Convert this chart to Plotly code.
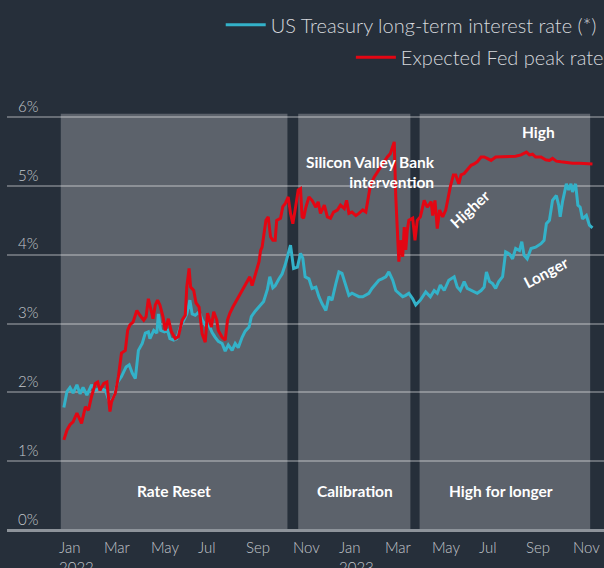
import plotly.graph_objects as go

# US Treasury long-term interest rate (%)
ust_dates = [
    "2022-01-06", "2022-01-10", "2022-01-14", "2022-01-18", "2022-01-23", "2022-01-27", "2022-01-31",
    "2022-02-05", "2022-02-11", "2022-02-16", "2022-02-22", "2022-03-01", "2022-03-07", "2022-03-12",
    "2022-03-17", "2022-03-22", "2022-03-28", "2022-04-01", "2022-04-05", "2022-04-09", "2022-04-13",
    "2022-04-18", "2022-04-22", "2022-04-26", "2022-04-28", "2022-05-03", "2022-05-07", "2022-05-09",
    "2022-05-12", "2022-05-17", "2022-05-21", "2022-05-24", "2022-05-29", "2022-06-02", "2022-06-06",
    "2022-06-11", "2022-06-15", "2022-06-19", "2022-06-22", "2022-06-26", "2022-07-01", "2022-07-05",
    "2022-07-09", "2022-07-13", "2022-07-18", "2022-07-22", "2022-07-26", "2022-07-31", "2022-08-04",
    "2022-08-08", "2022-08-13", "2022-08-17", "2022-08-21", "2022-08-26", "2022-08-30", "2022-09-04",
    "2022-09-07", "2022-09-12", "2022-09-17", "2022-09-23", "2022-09-28", "2022-10-01", "2022-10-05",
    "2022-10-08", "2022-10-13", "2022-10-17", "2022-10-21", "2022-10-25", "2022-10-28", "2022-10-30",
    "2022-11-01", "2022-11-06", "2022-11-10", "2022-11-13", "2022-11-16", "2022-11-21", "2022-11-25",
    "2022-11-30", "2022-12-04", "2022-12-08", "2022-12-13", "2022-12-17", "2022-12-21", "2022-12-26",
    "2022-12-30", "2023-01-03", "2023-01-08", "2023-01-12", "2023-01-16", "2023-01-21", "2023-01-25",
    "2023-01-30", "2023-02-03", "2023-02-07", "2023-02-11", "2023-02-16", "2023-02-20", "2023-02-24",
    "2023-03-01", "2023-03-05", "2023-03-10", "2023-03-14", "2023-03-18", "2023-03-23", "2023-03-27",
    "2023-03-31", "2023-04-05", "2023-04-09", "2023-04-15", "2023-04-22", "2023-04-28", "2023-05-03",
    "2023-05-07", "2023-05-11", "2023-05-16", "2023-05-22", "2023-05-29", "2023-06-02", "2023-06-06",
    "2023-06-11", "2023-06-15", "2023-06-20", "2023-06-24", "2023-06-28", "2023-07-03", "2023-07-07",
    "2023-07-10", "2023-07-14", "2023-07-18", "2023-07-22", "2023-07-26", "2023-07-31", "2023-08-04",
    "2023-08-09", "2023-08-13", "2023-08-17", "2023-08-22", "2023-08-25", "2023-08-28", "2023-09-01",
    "2023-09-06", "2023-09-12", "2023-09-19", "2023-09-23", "2023-09-26", "2023-09-30", "2023-10-04",
    "2023-10-09", "2023-10-12", "2023-10-14", "2023-10-17", "2023-10-22", "2023-10-25", "2023-10-28",
    "2023-10-30", "2023-11-03", "2023-11-06", "2023-11-09", "2023-11-12", "2023-11-17", "2023-11-21",
    "2023-11-25",
]
ust_rate = [
    1.78, 2.01, 2.07, 1.99, 2.11, 1.98, 2.07,
    1.96, 2.11, 2.03, 2.06, 2.03, 1.84, 1.94,
    2.15, 2.23, 2.37, 2.40, 2.28, 2.20, 2.61,
    2.71, 2.86, 2.88, 2.78, 2.90, 2.86, 3.14,
    2.90, 2.88, 2.90, 2.78, 2.76, 2.78, 2.93,
    3.05, 3.14, 3.34, 3.14, 3.12, 3.17, 3.05,
    2.98, 3.00, 2.87, 2.80, 2.74, 2.71, 2.60,
    2.69, 2.61, 2.71, 2.65, 2.80, 2.89, 2.95,
    3.10, 3.18, 3.24, 3.32, 3.50, 3.68, 3.52,
    3.55, 3.65, 3.72, 3.85, 4.02, 4.14, 3.97,
    3.80, 3.82, 4.02, 3.95, 3.68, 3.65, 3.51,
    3.53, 3.39, 3.29, 3.19, 3.39, 3.34, 3.58,
    3.75, 3.73, 3.53, 3.41, 3.44, 3.41, 3.39,
    3.39, 3.41, 3.44, 3.51, 3.58, 3.63, 3.65,
    3.68, 3.75, 3.63, 3.48, 3.44, 3.39, 3.41,
    3.44, 3.36, 3.27, 3.34, 3.46, 3.39, 3.48,
    3.44, 3.56, 3.48, 3.63, 3.68, 3.53, 3.48,
    3.61, 3.51, 3.48, 3.46, 3.44, 3.48, 3.53,
    3.75, 3.61, 3.58, 3.51, 3.61, 3.68, 4.04,
    4.01, 3.94, 4.09, 4.06, 4.19, 3.99, 3.94,
    4.09, 4.11, 4.16, 4.21, 4.45, 4.50, 4.79,
    4.86, 4.72, 4.55, 4.77, 5.03, 4.94, 5.03,
    4.91, 5.03, 4.72, 4.69, 4.52, 4.57, 4.43,
    4.39,
]

# Expected Fed peak rate (%)
fed_dates = [
    "2022-01-06", "2022-01-10", "2022-01-14", "2022-01-18", "2022-01-23", "2022-01-26", "2022-01-29",
    "2022-02-03", "2022-02-07", "2022-02-11", "2022-02-16", "2022-02-19", "2022-02-22", "2022-02-27",
    "2022-03-03", "2022-03-07", "2022-03-09", "2022-03-14", "2022-03-18", "2022-03-22", "2022-03-27",
    "2022-03-30", "2022-04-02", "2022-04-06", "2022-04-11", "2022-04-15", "2022-04-20", "2022-04-23",
    "2022-04-26", "2022-04-29", "2022-05-02", "2022-05-05", "2022-05-08", "2022-05-11", "2022-05-15",
    "2022-05-18", "2022-05-22", "2022-05-26", "2022-05-31", "2022-06-04", "2022-06-09", "2022-06-13",
    "2022-06-15", "2022-06-18", "2022-06-20", "2022-06-24", "2022-06-27", "2022-07-01", "2022-07-05",
    "2022-07-09", "2022-07-12", "2022-07-17", "2022-07-20", "2022-07-24", "2022-07-26", "2022-07-31",
    "2022-08-04", "2022-08-07", "2022-08-10", "2022-08-14", "2022-08-19", "2022-08-24", "2022-08-28",
    "2022-09-02", "2022-09-05", "2022-09-08", "2022-09-12", "2022-09-17", "2022-09-19", "2022-09-21",
    "2022-09-26", "2022-09-29", "2022-10-02", "2022-10-05", "2022-10-08", "2022-10-10", "2022-10-15",
    "2022-10-18", "2022-10-21", "2022-10-25", "2022-10-28", "2022-10-31", "2022-11-03", "2022-11-07",
    "2022-11-10", "2022-11-12", "2022-11-14", "2022-11-17", "2022-11-21", "2022-11-25", "2022-11-30",
    "2022-12-03", "2022-12-06", "2022-12-11", "2022-12-15", "2022-12-19", "2022-12-23", "2022-12-28",
    "2023-01-01", "2023-01-06", "2023-01-09", "2023-01-12", "2023-01-16", "2023-01-21", "2023-01-25",
    "2023-01-30", "2023-02-03", "2023-02-06", "2023-02-09", "2023-02-14", "2023-02-18", "2023-02-22",
    "2023-02-27", "2023-03-03", "2023-03-07", "2023-03-10", "2023-03-12", "2023-03-14", "2023-03-16",
    "2023-03-18", "2023-03-20", "2023-03-23", "2023-03-25", "2023-03-27", "2023-03-29", "2023-03-31",
    "2023-04-05", "2023-04-08", "2023-04-11", "2023-04-15", "2023-04-20", "2023-04-24", "2023-04-29",
    "2023-05-01", "2023-05-04", "2023-05-07", "2023-05-10", "2023-05-14", "2023-05-18", "2023-05-21",
    "2023-05-24", "2023-05-28", "2023-05-31", "2023-06-04", "2023-06-07", "2023-06-11", "2023-06-15",
    "2023-06-20", "2023-06-24", "2023-06-28", "2023-07-03", "2023-07-07", "2023-07-11", "2023-07-16",
    "2023-07-22", "2023-07-29", "2023-08-04", "2023-08-11", "2023-08-17", "2023-08-24", "2023-08-28",
    "2023-08-31", "2023-09-04", "2023-09-08", "2023-09-12", "2023-09-19", "2023-09-25", "2023-09-30",
    "2023-10-04", "2023-10-09", "2023-10-15", "2023-10-22", "2023-10-30", "2023-11-08", "2023-11-17",
    "2023-11-25",
]
fed_peak = [
    1.31, 1.45, 1.53, 1.57, 1.70, 1.62, 1.55,
    1.79, 1.74, 1.94, 2.13, 2.15, 2.03, 2.13,
    2.15, 1.72, 1.86, 1.99, 2.23, 2.57, 2.61,
    2.90, 2.98, 3.02, 3.19, 3.12, 3.05, 3.10,
    3.36, 3.22, 3.07, 3.27, 3.34, 3.27, 3.10,
    2.90, 3.07, 2.88, 2.78, 2.81, 3.05, 3.12,
    3.53, 3.80, 3.53, 3.48, 3.30, 3.24, 2.85,
    2.73, 3.15, 2.95, 3.17, 3.05, 2.90, 2.80,
    2.76, 3.05, 3.15, 3.24, 3.34, 3.45, 3.51,
    3.62, 3.68, 3.55, 3.70, 3.90, 4.06, 4.11,
    4.50, 4.55, 4.26, 4.21, 4.21, 4.50, 4.53,
    4.70, 4.74, 4.84, 4.60, 4.45, 4.65, 4.94,
    4.96, 4.55, 4.53, 4.69, 4.84, 4.79, 4.69,
    4.77, 4.60, 4.72, 4.55, 4.53, 4.62, 4.65,
    4.72, 4.67, 4.79, 4.60, 4.62, 4.57, 4.60,
    4.65, 4.62, 4.82, 5.01, 5.13, 5.20, 5.28,
    5.35, 5.42, 5.47, 5.57, 5.64, 4.84, 4.26,
    3.90, 4.21, 3.97, 4.40, 4.07, 4.36, 4.50,
    4.53, 4.21, 4.50, 4.55, 4.79, 4.69, 4.77,
    4.57, 4.79, 4.38, 4.65, 4.55, 4.65, 4.84,
    4.99, 5.16, 5.16, 5.03, 5.16, 5.18, 5.23,
    5.30, 5.32, 5.35, 5.42, 5.42, 5.40, 5.37,
    5.42, 5.42, 5.43, 5.43, 5.43, 5.45, 5.48,
    5.49, 5.45, 5.46, 5.42, 5.42, 5.38, 5.37,
    5.40, 5.36, 5.35, 5.34, 5.33, 5.33, 5.33,
    5.32,
]

# Policy phases (shaded)
phase_names = ["Rate Reset", "Calibration", "High for longer"]
phase_start = ["2022-01-02", "2022-11-07", "2023-04-14"]
phase_end = ["2022-10-24", "2023-04-02", "2023-11-22"]
phase_label_at = ["2022-05-29", "2023-01-20", "2023-07-29"]

pct_ticks = [0, 1, 2, 3, 4, 5, 6]
pct_labels = ["0%", "1%", "2%", "3%", "4%", "5%", "6%"]

month_ticks = ["2022-01-01", "2022-03-01", "2022-05-01", "2022-07-01", "2022-09-01", "2022-11-01",
               "2023-01-01", "2023-03-01", "2023-05-01", "2023-07-01", "2023-09-01", "2023-11-01"]
month_labels = ["Jan<br>2022", "Mar", "May", "Jul", "Sep", "Nov",
                "Jan<br>2023", "Mar", "May", "Jul", "Sep", "Nov"]

BG = "#262f3a"
SHADE = "#5c626b"
CYAN = "#33b2c9"
RED = "#e30613"
FONT = "Lato"
TOP = 6.05  # top of the shaded panels

fig = go.Figure()
fig.add_trace(go.Scatter(
    x=ust_dates, y=ust_rate, mode="lines", name="US Treasury long-term interest rate (*)",
    line=dict(color=CYAN, width=3), legend="legend",
))
fig.add_trace(go.Scatter(
    x=fed_dates, y=fed_peak, mode="lines", name="Expected Fed peak rate",
    line=dict(color=RED, width=3), legend="legend2",
))

for start, end in zip(phase_start, phase_end):
    fig.add_shape(type="rect", xref="x", yref="y", x0=start, x1=end, y0=0, y1=TOP,
                  fillcolor=SHADE, line_width=0, layer="below")

bold = dict(family=FONT, size=15.5, color="white", weight=700)
for name, at in zip(phase_names, phase_label_at):
    fig.add_annotation(x=at, y=0.57, text=name, showarrow=False, font=bold)

fig.add_annotation(x="2023-05-06", y=5.20, text="Silicon Valley Bank<br>intervention",
                   showarrow=False, align="right", xanchor="right", font=bold)
fig.add_annotation(x="2023-09-16", y=5.78, text="High", showarrow=False, font=bold)
fig.add_annotation(x="2023-06-18", y=4.67, text="Higher", textangle=-43, showarrow=False, font=bold)
fig.add_annotation(x="2023-09-26", y=3.75, text="Longer", textangle=-28, showarrow=False, font=bold)

for tv, tt in zip(month_ticks, month_labels):
    fig.add_annotation(x=tv, y=0, yref="paper", yanchor="top", xanchor="left", yshift=-6, xshift=-3,
                       text=tt, align="left", showarrow=False,
                       font=dict(family=FONT, size=15, color="#c3c7cc", weight=300))

leg = dict(xanchor="left", yanchor="middle", bgcolor="rgba(0,0,0,0)", itemwidth=40,
           font=dict(family=FONT, size=20, color="#d5d8dc", weight=300))

fig.update_layout(
    width=604,
    height=568,
    paper_bgcolor=BG,
    plot_bgcolor=BG,
    margin=dict(l=7, r=0, t=93, b=38, autoexpand=False),
    showlegend=True,
    legend=dict(leg, x=0.358, y=1.156),
    legend2=dict(leg, x=0.576, y=1.082),
    xaxis=dict(range=["2021-10-24", "2023-12-10"], showgrid=False, showticklabels=False,
               zeroline=False, showline=False),
    yaxis=dict(range=[0, 6.35], tickvals=pct_ticks, ticktext=pct_labels, automargin=False,
               ticklabelposition="inside top", ticklabelstandoff=8,
               tickfont=dict(family=FONT, size=15, color="#c3c7cc", weight=300),
               gridcolor="rgba(255,255,255,0.3)", gridwidth=1.5,
               zeroline=True, zerolinecolor="#8d939a", zerolinewidth=3, showline=False),
)

fig.write_html("out.html", config={"displayModeBar": False},
               post_script="document.body.style.margin = '0px';")
